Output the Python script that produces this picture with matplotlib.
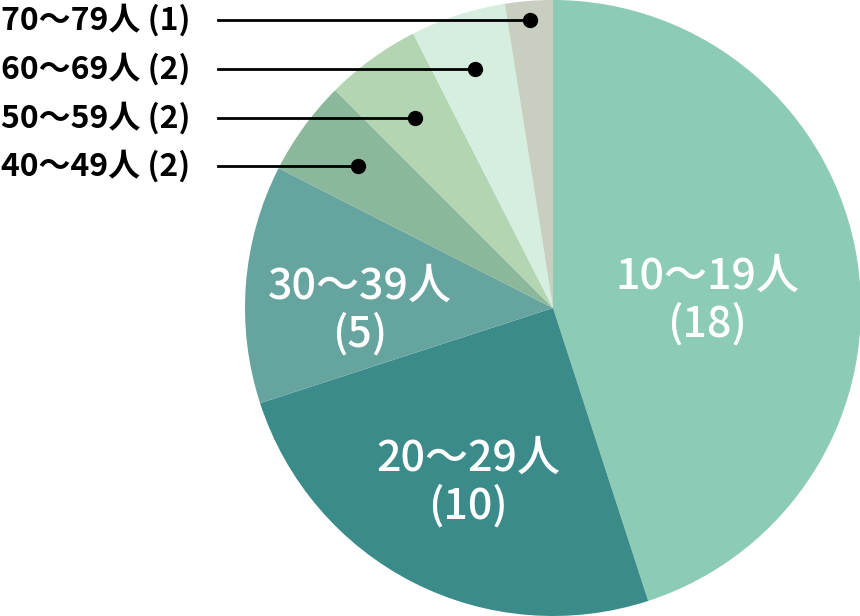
import numpy as np
import matplotlib
matplotlib.use("Agg")
import matplotlib.pyplot as plt

plt.rcParams['font.family'] = ['Noto Sans CJK JP', 'DejaVu Sans']

categories = ["10～19人", "20～29人", "30～39人", "40～49人", "50～59人", "60～69人", "70～79人"]
values = [18, 10, 5, 2, 2, 2, 1]
colors = ["#8ccbb5", "#3a8b89", "#66a59f", "#8bb79a", "#b4d5b1", "#d5eedf", "#c8cfc0"]

W, H = 860, 616
fig = plt.figure(figsize=(W / 100, H / 100), dpi=100)
R_px = 308
cx, cy = 553, 308
ax = fig.add_axes([(cx - R_px) / W, (H - cy - R_px) / H, 2 * R_px / W, 2 * R_px / H])
ax.set_aspect('equal')
ax.axis('off')

wedges, _ = ax.pie(values, colors=colors, startangle=90, counterclock=False,
                   radius=1.0, wedgeprops=dict(linewidth=0))
ax.set_xlim(-1, 1)
ax.set_ylim(-1, 1)

# inner labels (pixel positions of label centres)
inner = {0: (707, 300), 1: (468, 482), 2: (360, 310)}
for i, (px, py) in inner.items():
    x = (px - cx) / R_px
    y = (cy - py) / R_px
    ax.text(x, y, f"{categories[i]}\n({values[i]})", color="white", fontsize=31,
            fontweight="medium", ha="center", va="center", linespacing=1.12)

# outer labels with leader lines
rows_px = {6: 20, 5: 69, 4: 118, 3: 166}
total = sum(values)
cum = np.cumsum([0] + values)
for i, py in rows_px.items():
    mid = 90 - 360 * (cum[i] + values[i] / 2) / total
    y = (cy - py) / R_px
    x = y / np.tan(np.radians(mid))
    ax.plot(x, y, 'o', color='black', markersize=10, zorder=5)
    x0 = (218 - cx) / R_px
    ax.plot([x0, x], [y, y], color='black', linewidth=2, zorder=4, clip_on=False)
    fig.text(1 / W, 1 - py / H, f"{categories[i]} ({values[i]})", color="black",
             fontsize=23, fontweight="bold", ha="left", va="center")

fig.savefig("out.png", dpi=100)
